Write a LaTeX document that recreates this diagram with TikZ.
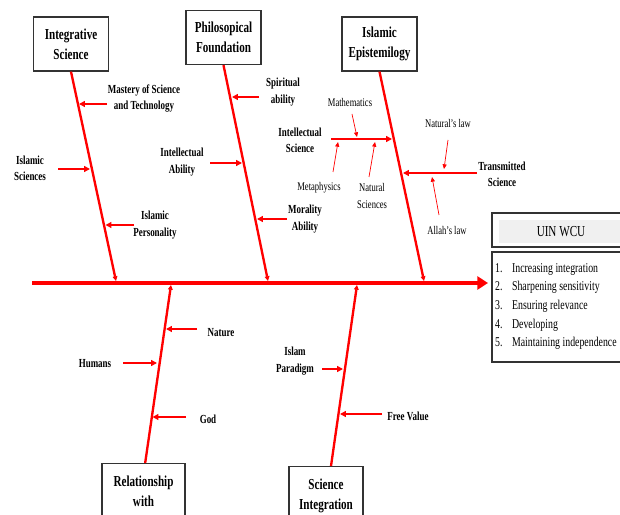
\documentclass[tikz,border=0pt]{standalone}
\usepackage{fontspec}
\setmainfont{Liberation Serif}[FakeStretch=0.73]
\usetikzlibrary{arrows.meta}

\begin{document}
\begin{tikzpicture}[x=0.03cm, y=-0.03cm,
  catbox/.style={draw=black!80, line width=1.1pt, fill=white, align=center, inner sep=1pt,
    minimum width=2.25cm, minimum height=1.62cm, font=\fontsize{13}{17}\selectfont\bfseries},
  cause/.style={align=center, inner sep=0pt, font=\fontsize{10.5}{14}\selectfont\bfseries},
  small/.style={align=center, inner sep=0pt, font=\fontsize{10}{14}\selectfont},
  spine/.style={red, line width=3.4pt, -{Triangle[length=9pt,width=11pt]}},
  bone/.style={red, line width=2pt, -{Triangle[length=4pt,width=4pt]}},
  twig/.style={red, line width=1.6pt, -{Triangle[length=5pt,width=5pt]}},
  hair/.style={red, line width=0.6pt, -{Triangle[length=4pt,width=3.5pt]}}]
\clip (0,0) rectangle (620,515);
% Main spine
\coordinate (tail) at (32,283);
\coordinate (head) at (488,283);
\draw[spine] (tail) -- (head);
% Category boxes
\node[catbox] (intg) at (71,44) {Integrative\\Science};
\node[catbox] (phil) at (223.5,37.5) {Philosopical\\Foundation};
\node[catbox] (epis) at (379.5,44) {Islamic\\Epistemilogy};
\node[catbox, anchor=north, minimum width=2.49cm, minimum height=1.64cm] (rel) at (143.5,463) {Relationship\\with};
\node[catbox, anchor=north, minimum width=2.22cm, minimum height=1.75cm] (sci) at (326,466) {Science\\Integration};
% Bones to the spine
\coordinate (s1) at (116,281);
\coordinate (s2) at (268,281);
\coordinate (s3) at (424,281);
\coordinate (s4) at (171,285);
\coordinate (s5) at (357,285);
\draw[bone] (intg.south) -- (s1);
\draw[bone] (phil.south) -- (s2);
\draw[bone] (epis.south) -- (s3);
\draw[bone] ([xshift=0.05cm]rel.north) -- (s4);
\draw[bone] ([xshift=0.15cm]sci.north) -- (s5);
% Causes for Integrative Science
\node[cause] (mastery) at (144,98.5) {Mastery of Science\\and Technology};
\node[cause] (islsci) at (30,168.5) {Islamic\\Sciences};
\node[cause] (islper) at (155,225) {Islamic\\Personality};
\coordinate (mastery-s) at (107,104);  \coordinate (mastery-e) at (79,104);
\coordinate (islsci-s) at (58,169);    \coordinate (islsci-e) at (90,169);
\coordinate (islper-s) at (134,225);   \coordinate (islper-e) at (105.5,225);
\draw[twig] (mastery-s) -- (mastery-e);
\draw[twig] (islsci-s) -- (islsci-e);
\draw[twig] (islper-s) -- (islper-e);
% Causes for Philosopical Foundation
\node[cause] (spirit) at (283,92) {Spiritual\\ability};
\node[cause] (intab) at (182,162) {Intellectual\\Ability};
\node[cause] (moral) at (305,219) {Morality\\Ability};
\coordinate (spirit-s) at (259,97);    \coordinate (spirit-e) at (232,97);
\coordinate (intab-s) at (210,163);    \coordinate (intab-e) at (242,163);
\coordinate (moral-s) at (287,219);    \coordinate (moral-e) at (257,219);
\draw[twig] (spirit-s) -- (spirit-e);
\draw[twig] (intab-s) -- (intab-e);
\draw[twig] (moral-s) -- (moral-e);
% Causes for Islamic Epistemilogy
\node[cause] (intsci) at (300,140) {Intellectual\\Science};
\node[cause] (trans) at (502,174.5) {Transmitted\\Science};
\coordinate (intsci-s) at (331,139);   \coordinate (intsci-e) at (392,139);
\coordinate (trans-s) at (477,173);    \coordinate (trans-e) at (403,173);
\draw[twig] (intsci-s) -- (intsci-e);
\draw[twig] (trans-s) -- (trans-e);
% Sub causes
\node[small] (math) at (350,102) {Mathematics};
\node[small] (meta) at (319,188) {Metaphysics};
\node[small] (natsci) at (372,196) {Natural\\Sciences};
\node[small] (natlaw) at (448,123) {Natural’s law};
\node[small] (allah) at (447,230) {Allah’s law};
\coordinate (math-s) at (352,114);     \coordinate (math-e) at (357,137);
\coordinate (meta-s) at (333,172);     \coordinate (meta-e) at (338,142);
\coordinate (natsci-s) at (369,177);   \coordinate (natsci-e) at (375,142);
\coordinate (natlaw-s) at (448,140);   \coordinate (natlaw-e) at (444,169);
\coordinate (allah-s) at (439,215);    \coordinate (allah-e) at (432,177);
\draw[hair] (math-s) -- (math-e);
\draw[hair] (meta-s) -- (meta-e);
\draw[hair] (natsci-s) -- (natsci-e);
\draw[hair] (natlaw-s) -- (natlaw-e);
\draw[hair] (allah-s) -- (allah-e);
% Causes for Relationship with
\node[cause] (nature) at (221,333) {Nature};
\node[cause] (humans) at (95,364) {Humans};
\node[cause] (god) at (208,419) {God};
\coordinate (nature-s) at (197,329);   \coordinate (nature-e) at (166,329);
\coordinate (humans-s) at (123,363);   \coordinate (humans-e) at (157,363);
\coordinate (god-s) at (186,417);      \coordinate (god-e) at (152.5,417);
\draw[twig] (nature-s) -- (nature-e);
\draw[twig] (humans-s) -- (humans-e);
\draw[twig] (god-s) -- (god-e);
% Causes for Science Integration
\node[cause] (islpar) at (295,361) {Islam\\Paradigm};
\node[cause] (free) at (408,416) {Free Value};
\coordinate (islpar-s) at (322,369);   \coordinate (islpar-e) at (343,369);
\coordinate (free-s) at (382,414);     \coordinate (free-e) at (340,414);
\draw[twig] (islpar-s) -- (islpar-e);
\draw[twig] (free-s) -- (free-e);
% Effect box
\draw[draw=black!80, line width=1pt] (492,213) rectangle (640,247);
\fill[gray!12] (499,220) rectangle (640,243);
\node[font=\fontsize{13}{15}\selectfont] (wcuhead) at (561,232) {UIN WCU};
\draw[draw=black!80, line width=1pt] (492,252) rectangle (640,362);
\node[anchor=north west, align=left, inner sep=0pt, font=\fontsize{11.5}{15.9}\selectfont] (wcu) at (495,263) {%
  \makebox[1.25em][l]{1.}Increasing integration\\
  \makebox[1.25em][l]{2.}Sharpening sensitivity\\
  \makebox[1.25em][l]{3.}Ensuring relevance\\
  \makebox[1.25em][l]{4.}Developing\\
  \makebox[1.25em][l]{5.}Maintaining independence};
\end{tikzpicture}
\end{document}
